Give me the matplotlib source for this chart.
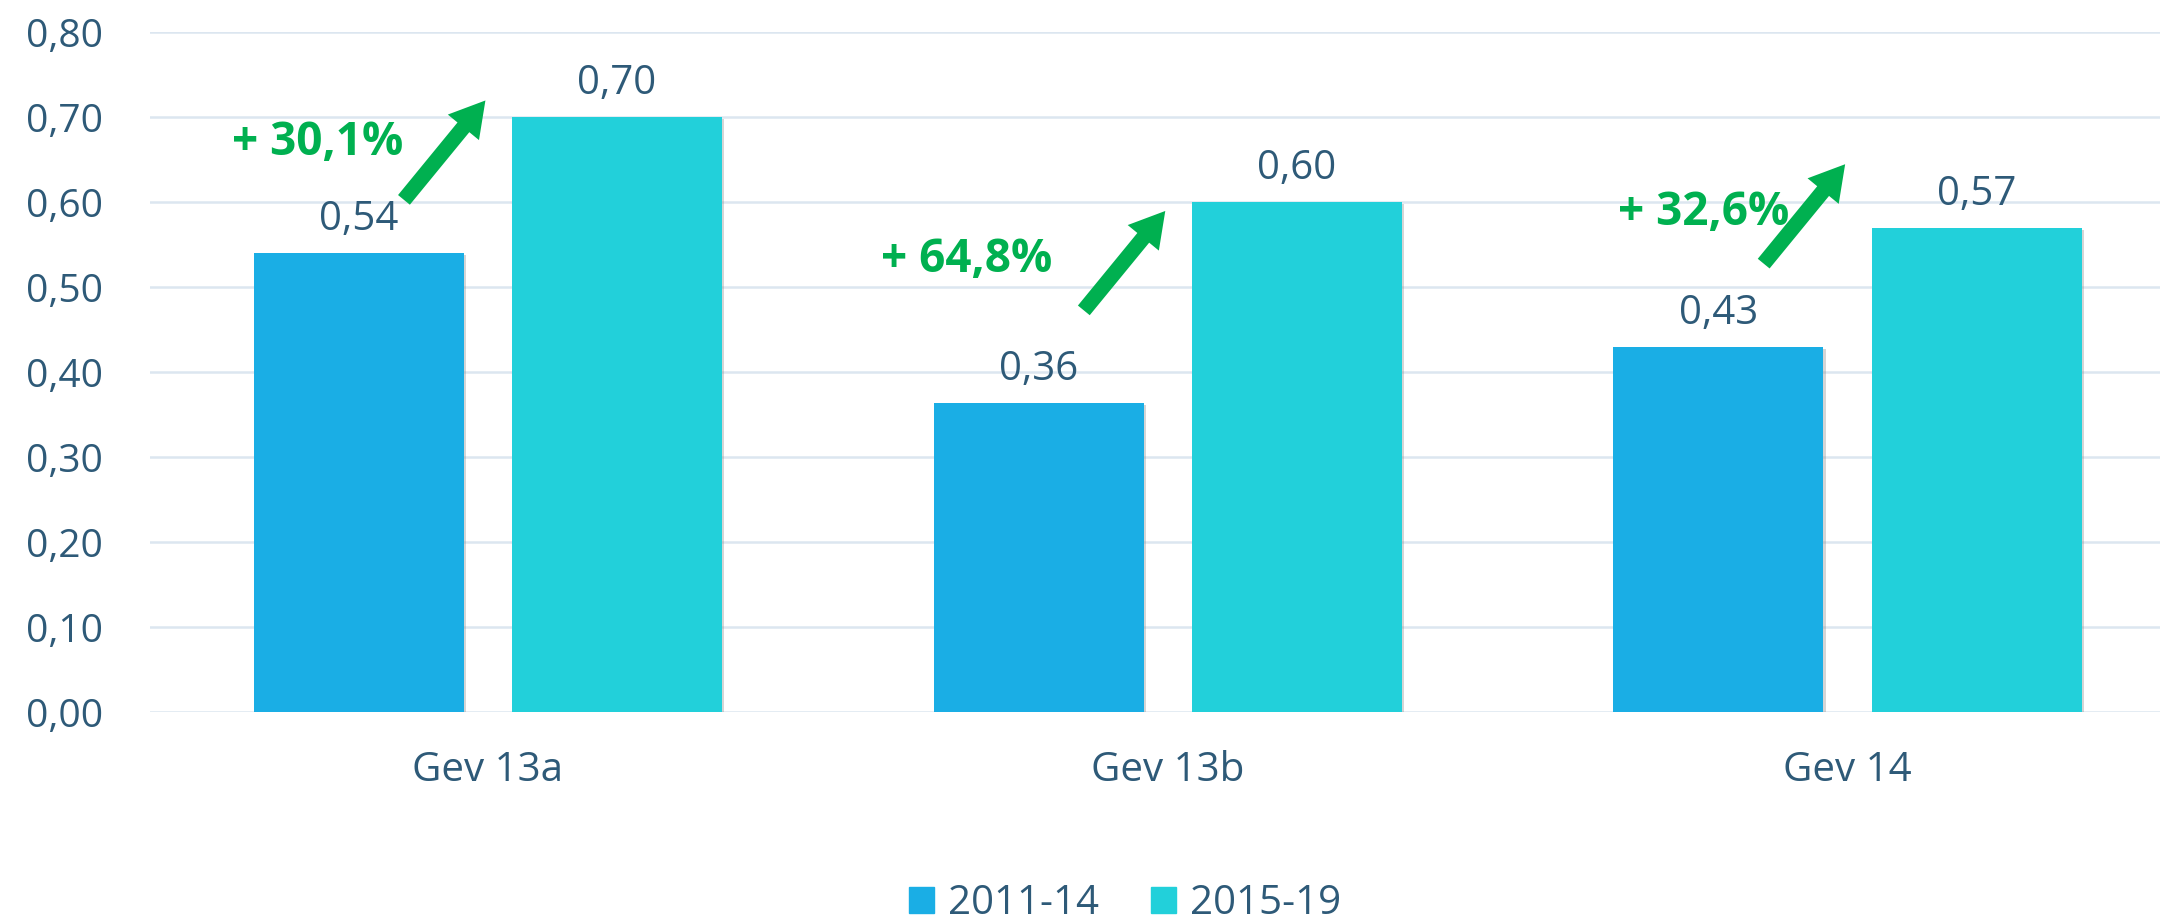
import matplotlib.pyplot as plt
import matplotlib.patheffects as pe
import numpy as np
from matplotlib.patches import Patch
from matplotlib.ticker import FuncFormatter

plt.rcParams['font.family'] = ['Open Sans', 'DejaVu Sans']

# data
groups = ['Gev 13a', 'Gev 13b', 'Gev 14']
series = ['2011-14', '2015-19']
vals_2011 = [0.54, 0.364, 0.43]
vals_2015 = [0.70, 0.60, 0.57]
growth = ['+ 30,1%', '+ 64,8%', '+ 32,6%']
arrow_base = [0.60, 0.47, 0.525]   # where each green arrow starts
text_height = [0.67, 0.532, 0.588]

c_old = '#1AAEE5'
c_new = '#22D0DA'
txt = '#2E5A78'
green = '#00B050'
grid_c = '#DCE6F0'

fig = plt.figure(figsize=(21.64, 9.23), dpi=100)
ax = fig.add_axes([0.0693, 0.2286, 0.929, 0.7367])

x = np.arange(len(groups))
w = 0.309
off = 0.19
shadow = [pe.SimplePatchShadow(offset=(1.5, -1.5), shadow_rgbFace='#888888', alpha=0.35), pe.Normal()]
b1 = ax.bar(x - off, vals_2011, w, color=c_old, zorder=3)
b2 = ax.bar(x + off, vals_2015, w, color=c_new, zorder=3)
for r in list(b1) + list(b2):
    r.set_path_effects(shadow)

fmt = lambda v: f'{v:.2f}'.replace('.', ',')
for bars, vals in [(b1, vals_2011), (b2, vals_2015)]:
    for r, v in zip(bars, vals):
        ax.text(r.get_x() + r.get_width() / 2, v + 0.039, fmt(v), ha='center', va='center',
                fontsize=29, color=txt, zorder=4)

for i in range(len(groups)):
    ax.annotate('', xy=(x[i] - 0.001, arrow_base[i] + 0.122),
                xytext=(x[i] - 0.126, arrow_base[i]),
                arrowprops=dict(arrowstyle='simple,head_width=1.45,head_length=1.25,tail_width=0.55',
                                mutation_scale=20, color=green, lw=0),
                zorder=5)
text_x = [-0.25, -0.296, -0.212]
for i in range(len(groups)):
    ax.text(x[i] + text_x[i], text_height[i], growth[i], ha='center', va='center',
            fontsize=33, fontweight='bold', color=green, zorder=6)

ax.set_ylim(0, 0.8)
ax.set_xlim(-0.497, 2.46)
ax.set_yticks(np.arange(0, 0.81, 0.1))
ax.yaxis.set_major_formatter(FuncFormatter(lambda v, p: fmt(v)))
ax.set_xticks(x)
ax.set_xticklabels(groups)
ax.tick_params(axis='y', length=0, pad=34, labelsize=28, labelcolor=txt)
ax.tick_params(axis='x', length=0, pad=28, labelsize=29, labelcolor=txt)
ax.grid(axis='y', color=grid_c, lw=1.8, zorder=0)
ax.set_axisbelow(True)
for s in ax.spines.values():
    s.set_visible(False)

handles = [Patch(color=c_old), Patch(color=c_new)]
fig.legend(handles, series, loc='center', bbox_to_anchor=(0.52, 0.021), ncol=2, frameon=False,
           fontsize=29, labelcolor=txt, handlelength=0.62, handleheight=0.62,
           handletextpad=0.35, columnspacing=1.3)

fig.savefig('out.png', dpi=100)
